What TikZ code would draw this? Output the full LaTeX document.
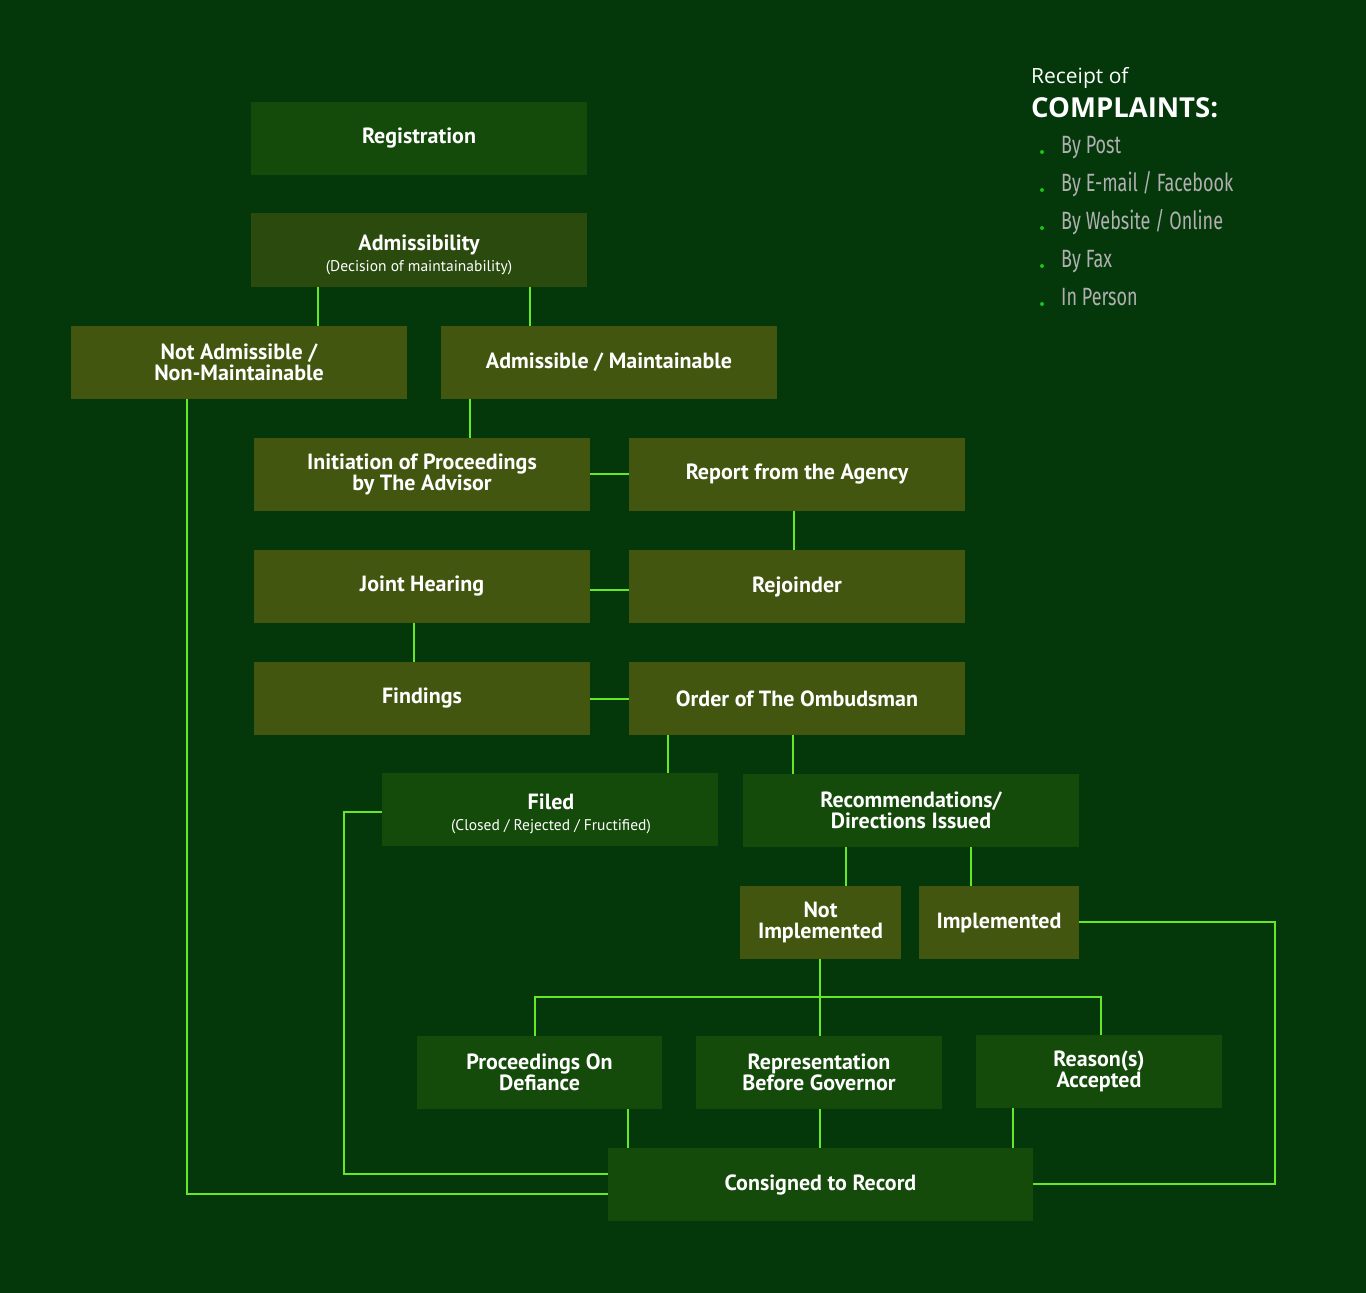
\documentclass[tikz,border=0pt]{standalone}
\usepackage{fontspec}
\setmainfont{PT Sans}
\newfontfamily\boxfont{PT Sans}
\newfontfamily\condfont[FakeStretch=0.72]{Fira Sans}
\newfontfamily\headfont{Open Sans}
\definecolor{bg}{RGB}{4,56,10}
\definecolor{boxdark}{RGB}{20,74,10}
\definecolor{boxadm}{RGB}{43,74,14}
\definecolor{boxolive}{RGB}{66,86,16}
\definecolor{linegreen}{RGB}{102,232,40}
\definecolor{itemgray}{RGB}{176,176,176}
\definecolor{dotgreen}{RGB}{30,190,30}
\tikzset{
  basebox/.style={draw=none, inner sep=0pt, align=center, text=white,
    font=\boxfont\bfseries\fontsize{22}{21}\selectfont},
  darkbox/.style={basebox, fill=boxdark},
  admbox/.style={basebox, fill=boxadm},
  olivebox/.style={basebox, fill=boxolive},
  conn/.style={draw=linegreen, line width=1.1pt},
  itemtext/.style={anchor=base west, text=itemgray, inner sep=0pt, font=\condfont\fontsize{25}{26}\selectfont},
  dotmark/.style={circle, fill=dotgreen, inner sep=0pt, minimum size=4pt}
}
\begin{document}
\begin{tikzpicture}[x=1pt,y=-1pt]
\fill[bg] (0,0) rectangle (1366,1293);
\useasboundingbox (0,0) rectangle (1366,1293);

% boxes
\node[darkbox, minimum width=336pt, minimum height=73pt] (reg) at (419,138.5) {Registration};
\node[admbox, minimum width=336pt, minimum height=74pt] (adm) at (419,250) {};
\node[anchor=base, text=white, inner sep=0pt, font=\boxfont\bfseries\fontsize{22}{21}\selectfont] (admt) at (419,250) {Admissibility};
\node[anchor=base, text=white, inner sep=0pt, font=\boxfont\fontsize{15.5}{15}\selectfont] (adms) at (419,271) {(Decision of maintainability)};
\node[olivebox, minimum width=336pt, minimum height=73pt] (nadm) at (239,362.5) {Not Admissible /\\Non-Maintainable};
\node[olivebox, minimum width=336pt, minimum height=73pt] (yadm) at (609,362.5) {Admissible / Maintainable};
\node[olivebox, minimum width=336pt, minimum height=73pt] (init) at (422,474.5) {Initiation of Proceedings\\by The Advisor};
\node[olivebox, minimum width=336pt, minimum height=73pt] (rep) at (797,474.5) {Report from the Agency};
\node[olivebox, minimum width=336pt, minimum height=73pt] (joint) at (422,586.5) {Joint Hearing};
\node[olivebox, minimum width=336pt, minimum height=73pt] (rej) at (797,586.5) {Rejoinder};
\node[olivebox, minimum width=336pt, minimum height=73pt] (find) at (422,698.5) {Findings};
\node[olivebox, minimum width=336pt, minimum height=73pt] (ord) at (797,698.5) {Order of The Ombudsman};
\node[darkbox, minimum width=336pt, minimum height=73pt] (filed) at (550,809.5) {};
\node[anchor=base, text=white, inner sep=0pt, font=\boxfont\bfseries\fontsize{22}{21}\selectfont] (filedt) at (551,809) {Filed};
\node[anchor=base, text=white, inner sep=0pt, font=\boxfont\fontsize{15.5}{15}\selectfont] (fileds) at (551,830) {(Closed / Rejected / Fructified)};
\node[darkbox, minimum width=336pt, minimum height=73pt] (recom) at (911,810.5) {Recommendations/\\Directions Issued};
\node[olivebox, minimum width=161pt, minimum height=73pt] (nimp) at (820.5,922.5) {Not\\Implemented};
\node[olivebox, minimum width=160pt, minimum height=73pt] (imp) at (999,922.5) {Implemented};
\node[darkbox, minimum width=245pt, minimum height=73pt] (defi) at (539.5,1072.5) {Proceedings On\\Defiance};
\node[darkbox, minimum width=246pt, minimum height=73pt] (repg) at (819,1072.5) {Representation\\Before Governor};
\node[darkbox, minimum width=246pt, minimum height=73pt] (reas) at (1099,1071.5) {Reason(s)\\Accepted};
\node[darkbox, minimum width=425pt, minimum height=73pt] (cons) at (820.5,1184.5) {Consigned to Record};

% connectors
\draw[conn] (adm.south -| 318,0) -- (nadm.north -| 318,0);
\draw[conn] (adm.south -| 530,0) -- (yadm.north -| 530,0);
\draw[conn] (yadm.south -| 470,0) -- (init.north -| 470,0);
\draw[conn] (init.east |- 0,474) -- (rep.west |- 0,474);
\draw[conn] (rep.south -| 794,0) -- (rej.north -| 794,0);
\draw[conn] (joint.east |- 0,590) -- (rej.west |- 0,590);
\draw[conn] (joint.south -| 414,0) -- (find.north -| 414,0);
\draw[conn] (find.east |- 0,699) -- (ord.west |- 0,699);
\draw[conn] (ord.south -| 668,0) -- (filed.north -| 668,0);
\draw[conn] (ord.south -| 793,0) -- (recom.north -| 793,0);
\draw[conn] (recom.south -| 846,0) -- (nimp.north -| 846,0);
\draw[conn] (recom.south -| 971,0) -- (imp.north -| 971,0);
\draw[conn] (nimp.south -| 820,0) -- (repg.north -| 820,0);
\coordinate (bl) at (535,997);
\coordinate (br) at (1101,997);
\draw[conn] (defi.north -| bl) -- (bl) -- (br) -- (reas.north -| br);
\draw[conn] (defi.south -| 628,0) -- (cons.north -| 628,0);
\draw[conn] (repg.south -| 820,0) -- (cons.north -| 820,0);
\draw[conn] (reas.south -| 1013,0) -- (cons.north -| 1013,0);
\draw[conn] (filed.west |- 0,812) -- (344,812) -- (344,1174) -- (cons.west |- 0,1174);
\draw[conn] (nadm.south -| 187,0) -- (187,1194) -- (cons.west |- 0,1194);
\draw[conn] (imp.east |- 0,922) -- (1275,922) -- (1275,1184) -- (cons.east |- 0,1184);

% legend
\node[anchor=base west, inner sep=0pt, text=white, font=\headfont\fontsize{21}{22}\selectfont] (rec) at (1031,83) {Receipt of};
\node[anchor=base west, inner sep=0pt, text=white, font=\headfont\bfseries\fontsize{27.5}{29}\selectfont] (comp) at (1031,117) {COMPLAINTS:};
\foreach \t [count=\i] in {By Post, By E-mail / Facebook, By Website / Online, By Fax, In Person}{
  \node[itemtext] (it\i) at (1061,{117+38*\i-2}) {\t};
  \node[dotmark] (dot\i) at (1042,{117+38*\i-3}) {};
}
\end{tikzpicture}
\end{document}
